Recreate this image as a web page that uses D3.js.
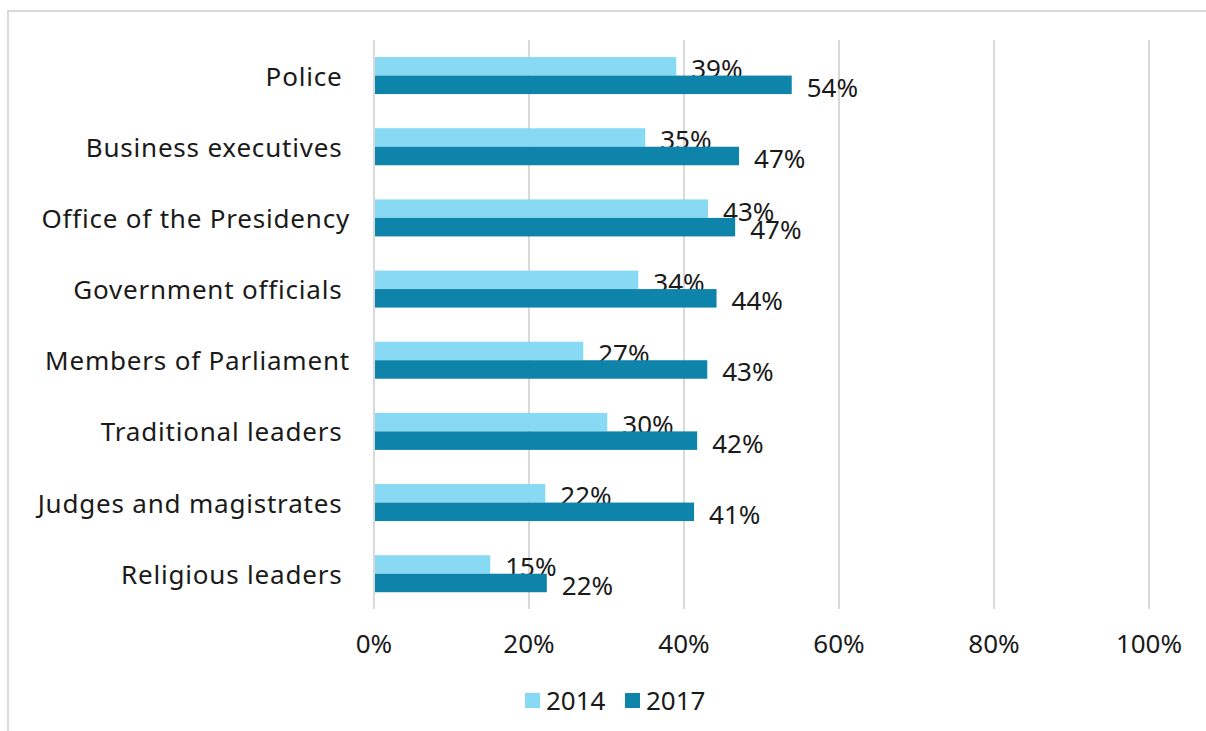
<!DOCTYPE html>
<html>
<head>
<meta charset="utf-8">
<script src="https://cdn.jsdelivr.net/npm/d3@7"></script>
<style>
  html, body { margin: 0; padding: 0; background: #fff; }
  svg text { font-family: "Noto Sans", sans-serif; fill: #1a1a1a; white-space: pre; }
</style>
</head>
<body>
<svg id="chart" width="1206" height="731"></svg>
<script>
// categories and values
const categories = ["Police ", "Business executives ", "Office of the Presidency", "Government officials ",
  "Members of Parliament", "Traditional leaders ", "Judges and magistrates ", "Religious leaders "];
const series = ["2014", "2017"];
const values2014 = [39, 35, 43.1, 34.1, 27, 30.1, 22.1, 15];
const values2017 = [53.9, 47.1, 46.6, 44.2, 43, 41.7, 41.3, 22.3];
const xTicks = [0, 20, 40, 60, 80, 100];
const colors = { "2014": "#87d9f4", "2017": "#0f84aa" };

const svg = d3.select("#chart");

// outer frame (only top and left edges are visible)
svg.append("path")
  .attr("d", "M8,731 L8,11 L1206,11")
  .attr("fill", "none")
  .attr("stroke", "#d9d9d9")
  .attr("stroke-width", 2);

const x = d3.scaleLinear().domain([0, 100]).range([374, 1149]);
const y = d3.scaleBand().domain(categories).range([40, 609.3]).paddingInner(0.48).paddingOuter(0.24);
const ySub = d3.scaleBand().domain(series).range([0, y.bandwidth()]);

// gridlines
svg.append("g").selectAll("line")
  .data(xTicks)
  .join("line")
  .attr("x1", d => x(d)).attr("x2", d => x(d))
  .attr("y1", 40).attr("y2", 609)
  .attr("stroke", "#d9d9d9")
  .attr("stroke-width", 2);

// tick labels
svg.append("g").selectAll("text")
  .data(xTicks)
  .join("text")
  .attr("x", d => x(d))
  .attr("y", 643)
  .attr("text-anchor", "middle")
  .attr("dominant-baseline", "central")
  .style("font-size", "26px")
  .text(d => d + "%");

// category labels
svg.append("g").selectAll("text")
  .data(categories)
  .join("text")
  .attr("x", 350)
  .attr("y", d => y(d) + y.bandwidth() / 2)
  .attr("text-anchor", "end")
  .attr("dominant-baseline", "central")
  .style("font-size", "26px")
  .style("letter-spacing", "0.8px")
  .text(d => d);

const rows = categories.map((c, i) => ({ cat: c, "2014": values2014[i], "2017": values2017[i] }));

series.forEach(s => {
  const g = svg.append("g");
  g.selectAll("rect")
    .data(rows)
    .join("rect")
    .attr("x", x(0) + 1)
    .attr("y", d => y(d.cat) + ySub(s))
    .attr("width", d => x(d[s]) - x(0) - 1)
    .attr("height", ySub.bandwidth())
    .attr("fill", colors[s]);
  g.selectAll("text")
    .data(rows)
    .join("text")
    .attr("x", d => x(d[s]) + 15)
    .attr("y", d => y(d.cat) + ySub(s) + ySub.bandwidth() / 2 + 2)
    .attr("dominant-baseline", "central")
    .style("font-size", "26px")
    .text(d => Math.round(d[s]) + "%");
});

// legend
const legend = svg.append("g");
const legendX = [525, 625];
series.forEach((s, i) => {
  legend.append("rect")
    .attr("x", legendX[i]).attr("y", 693)
    .attr("width", 15).attr("height", 15)
    .attr("fill", colors[s]);
  legend.append("text")
    .attr("x", legendX[i] + 21).attr("y", 700)
    .attr("dominant-baseline", "central")
    .style("font-size", "26px")
    .text(s);
});
</script>
</body>
</html>
